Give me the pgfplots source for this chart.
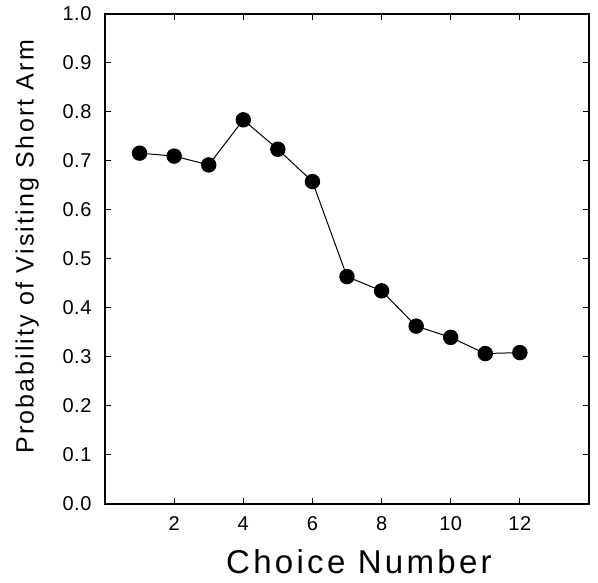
\documentclass[border=0pt]{standalone}
\usepackage{fontspec}
\setmainfont{Liberation Sans}
\usepackage{pgfplots}
\pgfplotsset{compat=1.18}
\begin{document}
\begin{tikzpicture}
\begin{axis}[
  scale only axis,
  width=242pt, height=245pt,
  xmin=0, xmax=14, ymin=0, ymax=1,
  xtick={2,4,6,8,10,12},
  ytick={0,0.1,0.2,0.3,0.4,0.5,0.6,0.7,0.8,0.9,1.0},
  tick align=inside,
  major tick length=3pt,
  tick style={black, line width=0.5pt},
  axis line style={line width=0.6pt},
  /pgf/number format/assume math mode=true,
  yticklabel style={/pgf/number format/fixed, /pgf/number format/fixed zerofill, /pgf/number format/precision=1, font=\fontsize{10}{11}\selectfont\addfontfeatures{LetterSpace=3}, xshift=-3.2pt},
  xticklabel style={font=\fontsize{10}{11}\selectfont\addfontfeatures{LetterSpace=3}, yshift=-2.7pt},
  scaled y ticks=false,
  xlabel={\addfontfeatures{LetterSpace=10}Choice Number},
  ylabel={\addfontfeatures{LetterSpace=9}Probability of Visiting Short Arm},
  xlabel style={font=\fontsize{16.5}{18}\selectfont, yshift=-2.5pt, xshift=6pt},
  ylabel style={font=\fontsize{12.5}{14}\selectfont, at={(ticklabel cs:0.525,5pt)}},
  after end axis/.code={
    \path (rel axis cs:0,0) ++(-52.5pt,-39pt);
    \path (rel axis cs:1,1) ++(4.5pt,7pt);
  },
]
\addplot[black, line width=0.5pt, mark=*, mark size=3.6pt, mark options={fill=black}]
coordinates {
(1,0.716) (2,0.710) (3,0.692) (4,0.784) (5,0.724) (6,0.658)
(7,0.464) (8,0.435) (9,0.363) (10,0.340) (11,0.307) (12,0.309)
};
\end{axis}
\end{tikzpicture}
\end{document}
